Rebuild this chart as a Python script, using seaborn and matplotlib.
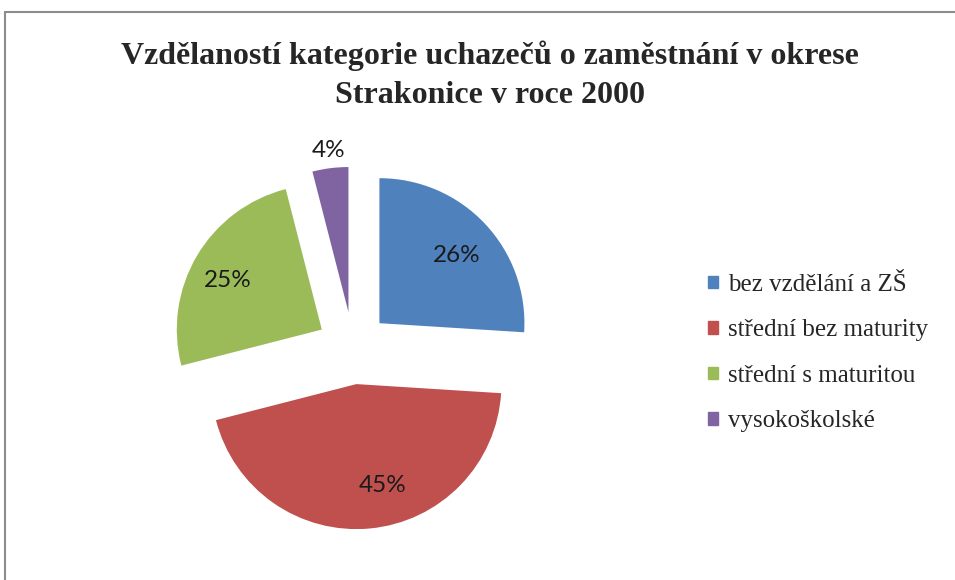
import matplotlib.pyplot as plt
import matplotlib.patches as mpatches
import seaborn as sns
import numpy as np

categories = ['bez vzdělání a ZŠ', 'střední bez maturity', 'střední s maturitou', 'vysokoškolské']
shares = [26, 45, 25, 4]
colors = ['#4F81BD', '#C0504D', '#9BBB59', '#8064A2']
title = 'Vzdělaností kategorie uchazečů o zaměstnání v okrese\nStrakonice v roce 2000'

sns.set_theme(style='white')
plt.rcParams['font.family'] = ['Liberation Serif', 'DejaVu Serif']

W, H = 955, 580
fig = plt.figure(figsize=(W / 100, H / 100), dpi=100)

# pie axes placed in pixels so one data unit = r pixels
r = 145.0
cx, cy = 353, H - 348
left, right, top, bottom = 150, 560, 130, 560
ax = fig.add_axes([left / W, (H - bottom) / H, (right - left) / W, (bottom - top) / H])

wedges, texts, autotexts = ax.pie(
    shares, colors=sns.color_palette(colors), startangle=90, counterclock=False,
    explode=[0.25] * len(shares), autopct='%d%%', pctdistance=0.72,
    wedgeprops=dict(linewidth=0))

# label placement like the office chart: distance and small angle nudge per slice
label_dist = [0.71, 0.72, 0.73, 1.12]
label_nudge = [-2, 9, 3, 0]
for w, t, d, nd in zip(wedges, autotexts, label_dist, label_nudge):
    ang = np.deg2rad((w.theta1 + w.theta2) / 2 + nd)
    c = w.center
    t.set_position((c[0] + d * np.cos(ang), c[1] + d * np.sin(ang)))
    t.set_fontfamily('Lato')
    t.set_fontsize(17.5)
    t.set_color('#1a1a1a')

ax.set_xlim((left - cx) / r, (right - cx) / r)
ax.set_ylim((H - bottom - cy) / r, (H - top - cy) / r)
ax.set_aspect('auto')
ax.axis('off')

fig.text(490 / W, 1 - 75 / H, title, ha='center', va='center', fontsize=23,
         fontweight='bold', linespacing=1.45)

handles = [mpatches.Patch(color=col, label=lab) for col, lab in zip(colors, categories)]
fig.legend(handles=handles, loc='upper left', bbox_to_anchor=(708 / W, 1 - 274 / H),
           frameon=False, fontsize=18, handlelength=0.4, handleheight=0.4,
           handletextpad=0.4, labelspacing=0.94, borderpad=0, borderaxespad=0)

# chart area border (only left and top visible in the crop)
fig.add_artist(mpatches.Rectangle((5 / W, -0.1), 1.2, 1.1 - 12 / H,
                                  transform=fig.transFigure, fill=False,
                                  edgecolor='#8c8c8c', linewidth=1.5))

plt.savefig('out.png', dpi=100)
